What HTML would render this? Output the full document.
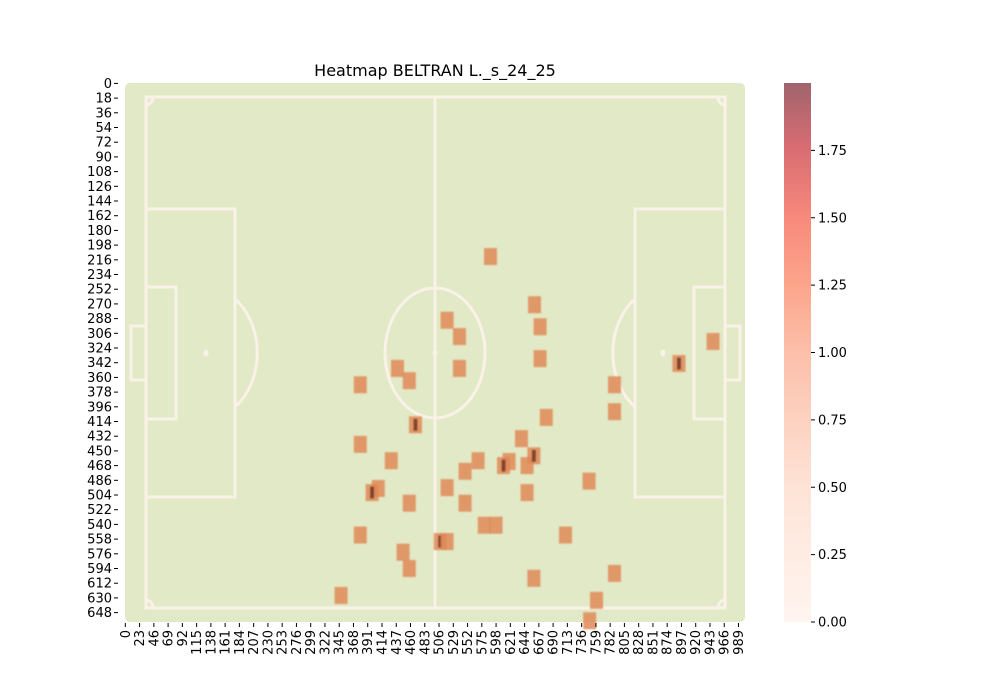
<!DOCTYPE html>
<html><head><meta charset="utf-8"><style>
body{margin:0;background:#fff;}
svg{display:block;font-family:"DejaVu Sans","Liberation Sans",sans-serif;}
</style></head><body>
<svg id="chart" width="1000" height="700" viewBox="0 0 1000 700" xmlns="http://www.w3.org/2000/svg">
<defs>
<filter id="blur" x="-50%" y="-50%" width="200%" height="200%"><feGaussianBlur stdDeviation="0.9"/></filter>
<linearGradient id="cbar" x1="0" y1="1" x2="0" y2="0">
<stop offset="0" stop-color="#fff5f0"/>
<stop offset="0.25" stop-color="#fee3d6"/>
<stop offset="0.5" stop-color="#fcbfaa"/>
<stop offset="0.62" stop-color="#fca68c"/>
<stop offset="0.75" stop-color="#f7897c"/>
<stop offset="0.88" stop-color="#d86c72"/>
<stop offset="1" stop-color="#a0646c"/>
</linearGradient>
</defs>
<text x="435" y="76" text-anchor="middle" font-size="16" fill="#000">Heatmap BELTRAN L._s_24_25</text>
<g id="plot"></g>
</svg>
<script>
const xs = [589,660,519,669,539,669,439,539,458,379,789,893,948,789,679,468,639,379,429,548,569,619,610,648,659,748,408,398,519,648,458,548,579,598,710,379,508,519,448,458,659,789,348,760,749];
const ys = [212,271,290,298,310,337,349,349,364,369,369,343,316,402,409,418,435,442,462,475,462,463,468,468,456,487,496,501,495,501,514,514,541,541,553,553,561,561,574,594,606,600,627,633,658];
const vals = [1,1,1,1,1,1,1,1,1,1,1,2,1,1,1,2,1,1,1,1,1,1,2,1,2,1,1,2,1,1,1,1,1,1,1,1,2,1,1,1,1,1,1,1,1];
const yTicks = [0,18,36,54,72,90,108,126,144,162,180,198,216,234,252,270,288,306,324,342,360,378,396,414,432,450,468,486,504,522,540,558,576,594,612,630,648];
const xTicks = [0,23,46,69,92,115,138,161,184,207,230,253,276,299,322,345,368,391,414,437,460,483,506,529,552,575,598,621,644,667,690,713,736,759,782,805,828,851,874,897,920,943,966,989];
const cbTicks = [0,0.25,0.5,0.75,1,1.25,1.5,1.75];

const NS='http://www.w3.org/2000/svg';
const g=document.getElementById('plot');
const L=125,T=83,W=620,H=539,NX=1000,NY=660;
const sx=v=>L+(v+0.5)*W/NX;
const sy=v=>T+(v+0.5)*H/NY;
const cbY=v=>622-v/2.0*539;
function mk(tag,attrs,parent){const e=document.createElementNS(NS,tag);for(const k in attrs)e.setAttribute(k,attrs[k]);(parent||g).appendChild(e);return e;}

let e=mk('rect',{x:L,y:T,width:W,height:H,rx:5,fill:'#e2e9c6'});


const pg=mk('g',{stroke:'#faf2e8','stroke-width':3,fill:'none'});


mk('rect',{x:146,y:97,width:579,height:511},pg);
mk('line',{x1:435,y1:97,x2:435,y2:608},pg);
mk('ellipse',{cx:435,cy:353,rx:50,ry:65},pg);
mk('rect',{x:146,y:209,width:89,height:288},pg);
mk('rect',{x:146,y:287,width:30,height:132},pg);
mk('rect',{x:131,y:326,width:15,height:54},pg);
mk('rect',{x:635,y:209,width:90,height:288},pg);
mk('rect',{x:694,y:287,width:31,height:132},pg);
mk('rect',{x:725,y:326,width:15,height:54},pg);
mk('path',{d:'M235,299 A50,65 0 0 1 235,407'},pg);
mk('path',{d:'M635,299 A50,65 0 0 0 635,407'},pg);
mk('path',{d:'M146,105 A7,8 0 0 0 153,97 M146,600 A7,8 0 0 1 153,608 M725,105 A7,8 0 0 1 718,97 M725,600 A7,8 0 0 0 718,608'},pg);
mk('ellipse',{cx:206,cy:353,rx:2.5,ry:3.5,fill:'#faf2e8',stroke:'none'},pg);
mk('ellipse',{cx:663,cy:353,rx:2.5,ry:3.5,fill:'#faf2e8',stroke:'none'},pg);
mk('ellipse',{cx:435,cy:353,rx:2.5,ry:3.5,fill:'#faf2e8',stroke:'none'},pg);

const hg=mk('g',{filter:'url(#blur)'});
for(let i=0;i<xs.length;i++){
  const cx=sx(xs[i]),cy=sy(ys[i]);
  const r=mk('rect',{x:cx-6.5,y:cy-8.5,width:13,height:17,fill:'#e08a58','fill-opacity':0.85},hg);
  
  
  if(vals[i]>1){
    const d=mk('rect',{x:cx-2,y:cy-6,width:4,height:12,fill:'#6a2e22','fill-opacity':0.8},hg);
    
    
  }
}

for(const t of yTicks){
  const y=sy(t);
  mk('line',{x1:114,y1:y,x2:118,y2:y,stroke:'#000','stroke-width':1});
  const tx=mk('text',{x:112,y:y+4.5,'text-anchor':'end','font-size':13,fill:'#000'});
  tx.textContent=t;
  
  
}
for(const t of xTicks){
  const x=sx(t);
  mk('line',{x1:x,y1:623,x2:x,y2:627,stroke:'#000','stroke-width':1});
  const tx=mk('text',{x:0,y:0,'text-anchor':'end','font-size':13,fill:'#000',transform:`translate(${x+4.5},630) rotate(-90)`});
  tx.textContent=t;
  
  
}
e=mk('rect',{x:784,y:83,width:27,height:539,fill:'url(#cbar)'});


for(const t of cbTicks){
  const y=cbY(t);
  mk('line',{x1:811,y1:y,x2:815,y2:y,stroke:'#000','stroke-width':1});
  const tx=mk('text',{x:818,y:y+4.5,'font-size':13,fill:'#000'});
  tx.textContent=t.toFixed(2);
  
  
}
</script>
</body></html>
